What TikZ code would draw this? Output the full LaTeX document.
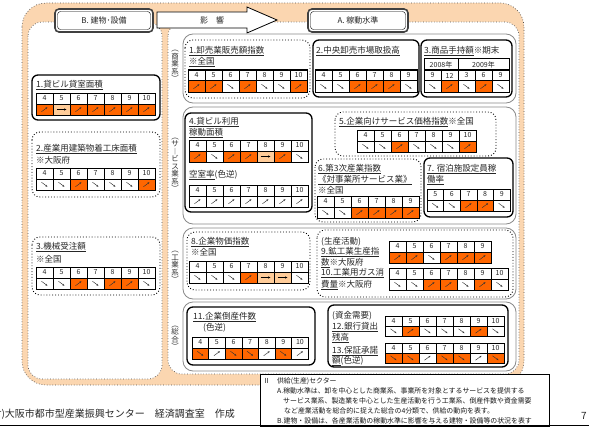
\documentclass[tikz,border=0pt]{standalone}
\usepackage{fontspec}
\setmainfont{Noto Sans CJK JP}
\usetikzlibrary{arrows.meta}
\definecolor{peach}{HTML}{FBD6B0}
\definecolor{cO}{HTML}{FF6600}
\definecolor{cP}{HTML}{FFCC99}
\definecolor{cW}{HTML}{FFFFFF}
\definecolor{grpc}{HTML}{8A8A8A}
\definecolor{dotc}{HTML}{505050}
\tikzset{
  cellline/.style={draw=black,line width=0.5pt},
  tblout/.style={draw=black,line width=1pt},
  numtxt/.style={inner sep=0pt,font=\fontsize{7}{8}\selectfont,text=black!85},
  glyph/.style={draw=black!80,line width=0.45pt,-{Stealth[length=2pt,width=1.8pt]}},
  glyphr/.style={draw=black,line width=0.6pt,-{Stealth[length=2.4pt,width=2.2pt]}},
  ttl/.style={inner sep=0pt,anchor=west,font=\fontsize{8.5}{9}\selectfont,text=black!85},
  sbox/.style={draw=black,line width=1.3pt,rounded corners=6pt,fill=white},
  dbox/.style={draw=black,dotted,line width=0.9pt,rounded corners=8pt,fill=white},
  grpbox/.style={draw=grpc,line width=0.8pt,rounded corners=10pt,fill=white},
  region/.style={draw=dotc,dotted,line width=0.7pt,fill=white,rounded corners=14pt},
  vlab/.style={inner sep=0pt,align=center,font=\fontsize{7.5}{7.5}\selectfont,text=black!80},
  hdbox/.style={draw=black!75,line width=1.6pt,rounded corners=4pt,fill=white},
  hdtxt/.style={inner sep=0pt,font=\fontsize{8}{9}\selectfont,text=black!85},
  note/.style={inner sep=0pt,anchor=west,font=\fontsize{6.9}{7}\selectfont,text=black!90},
}
\def\cw{17}
\def\rh{11}
\newcommand\mktable[4]{%
  \foreach \lab/\fc/\dr [count=\i from 0] in {#4}{%
    \pgfmathsetmacro\xa{#1+\cw*\i}%
    \pgfmathsetmacro\xc{\xa+\cw/2}%
    \pgfmathsetmacro\ya{#2+\rh}%
    \pgfmathsetmacro\yc{#2+1.5*\rh}%
    \pgfmathsetmacro\yh{#2+0.5*\rh}%
    \fill[\fc] (\xa,\ya) rectangle ++(\cw,\rh);
    \draw[cellline] (\xa,#2) rectangle ++(\cw,2*\rh);
    \node[numtxt] at (\xc,\yh) {\lab};
    \ifcase\dr\or
      \draw[glyph] (\xc-3,\yc+2.2) -- (\xc+3,\yc-2.2);
    \or
      \draw[glyph] (\xc-3,\yc-2.2) -- (\xc+3,\yc+2.2);
    \or
      \draw[glyphr] (\xc-5,\yc) -- (\xc+5,\yc);
    \fi
  }%
  \draw[tblout] (#1,#2) rectangle ++(\cw*#3,2*\rh);
  \draw[tblout] (#1,#2+\rh) -- ++(\cw*#3,0);
}
\begin{document}
\begin{tikzpicture}[x=1pt,y=-1pt]
\useasboundingbox (0,0) rectangle (589,428);
% frame and regions
\draw[draw=dotc,dotted,line width=0.7pt,fill=peach,rounded corners=24pt] (22,3) rectangle (524,385);
\draw[region] (28,22) rectangle (162,379);
\draw[region] (168,22) rectangle (519,374);
% headers
\draw[hdbox] (55,9) rectangle (153,32);
\draw[black,line width=0.4pt,rounded corners=3pt] (57.5,11.5) rectangle (150.5,29.5);
\node[hdtxt] (hB) at (104,20.5) {B. 建物･設備};
\draw[fill=white,line width=0.8pt] (157,12) -- (247,12) -- (247,7) -- (277,20) -- (247,33) -- (247,28) -- (157,28) -- cycle;
\node[hdtxt] (hE) at (212,20) {影　響};
\draw[hdbox] (308,9) rectangle (408,32);
\draw[black,line width=0.4pt,rounded corners=3pt] (310.5,11.5) rectangle (405.5,29.5);
\node[hdtxt] (hA) at (358,20.5) {A. 稼動水準};
% groups
\draw[grpbox] (183,34) rectangle (516,103);
\draw[grpbox] (183,107) rectangle (516,224);
\draw[grpbox] (183,228) rectangle (516,299);
\draw[grpbox] (183,302) rectangle (516,371);
% vertical labels
\node[vlab] (v1) at (175,66) {︵\\商\\業\\系\\︶};
\node[vlab] (v2) at (175,165) {︵\\サ\\︱\\ビ\\ス\\業\\系\\︶};
\node[vlab] (v3) at (175,267) {︵\\工\\業\\系\\︶};
\node[vlab] (v4) at (175,338) {︵\\総\\合\\︶};
% ---- left column
\draw[sbox] (32,75) rectangle (160,120);
\node[ttl] (b1) at (36,85) {\underline{1.貸ビル貸室面積}};
\mktable{36}{93}{7}{4/cO/1,5/cP/3,6/cO/1,7/cO/1,8/cO/1,9/cO/1,10/cO/1}
\draw[dbox] (32,132) rectangle (160,197);
\node[ttl] (b2) at (36,149) {\underline{2.産業用建築物着工床面積}};
\node[ttl] (b2b) at (36,160) {※大阪府};
\mktable{36}{168}{7}{4/cW/2,5/cW/2,6/cO/1,7/cW/2,8/cW/2,9/cW/2,10/cO/1}
\draw[dbox] (32,237) rectangle (160,295);
\node[ttl] (b3) at (36,247) {\underline{3.機械受注額}};
\node[ttl] (b3b) at (36,259) {※全国};
\mktable{36}{267}{7}{4/cW/2,5/cW/2,6/cO/1,7/cW/2,8/cO/1,9/cO/1,10/cW/2}
% ---- group 1
\draw[dbox] (185,40) rectangle (310,98);
\node[ttl] (a1) at (189,51) {\underline{1.卸売業販売額指数}};
\node[ttl] (a1b) at (189,62) {\underline{※全国}};
\mktable{188}{70}{7}{4/cO/1,5/cO/1,6/cW/2,7/cO/1,8/cW/2,9/cW/2,10/cO/1}
\draw[sbox] (313,40) rectangle (419,97);
\node[ttl] (a2) at (316,51) {\underline{2.中央卸売市場取扱高}};
\mktable{315}{70}{6}{4/cW/2,5/cW/2,6/cO/1,7/cO/1,8/cO/1,9/cW/2}
\draw[sbox] (421,40) rectangle (512,97);
\node[ttl] (a3) at (424,51) {\underline{3.商品手持額}※期末};
\draw[tblout] (424,59) rectangle (458,70);
\draw[tblout] (458,59) rectangle (509,70);
\node[numtxt] (y8) at (441,64.5) {2008年};
\node[numtxt] (y9) at (483.5,64.5) {2009年};
\mktable{424}{70}{5}{9/cW/2,12/cO/1,3/cW/2,6/cO/1,9/cW/2}
% ---- group 2
\draw[sbox] (185,113) rectangle (312,212);
\node[ttl] (a4) at (189,122) {\underline{4.貸ビル利用}};
\node[ttl] (a4b) at (189,133) {\underline{稼動面積}};
\mktable{189}{140}{7}{4/cO/1,5/cW/2,6/cO/1,7/cO/1,8/cP/3,9/cO/1,10/cW/2}
\node[ttl] (a4c) at (189,175) {\underline{空室率}(色逆)};
\mktable{189}{185}{7}{4/cW/1,5/cW/1,6/cW/1,7/cW/1,8/cW/1,9/cW/1,10/cW/1}
\draw[dbox] (335,112) rectangle (496,156);
\node[ttl] (a5) at (339,122) {\underline{5.企業向けサービス価格指数}※全国};
\mktable{357}{130}{7}{4/cW/2,5/cW/2,6/cO/1,7/cW/2,8/cW/2,9/cW/2,10/cO/1}
\draw[dbox] (315,159) rectangle (421,222);
\node[ttl] (a6) at (318,169) {\underline{6.第3次産業指数}};
\node[ttl] (a6b) at (318,180) {\underline{《対事業所サービス業》}};
\node[ttl] (a6c) at (318,190) {※全国};
\mktable{317}{196}{6}{4/cW/2,5/cW/2,6/cO/1,7/cO/1,8/cO/1,9/cO/1}
\draw[sbox] (424,158) rectangle (513,217);
\node[ttl] (a7) at (427,169) {\underline{7. 宿泊施設定員稼}};
\node[ttl] (a7b) at (427,180) {\underline{働率}};
\def\cw{16.6}
\mktable{427}{189}{5}{5/cW/2,6/cW/2,7/cO/1,8/cO/1,9/cW/2}
\def\cw{17}
% ---- group 3
\draw[dbox] (187,232) rectangle (310,290);
\node[ttl] (a8) at (191,242) {\underline{8.企業物価指数}};
\node[ttl] (a8b) at (191,252) {※全国};
\mktable{189}{261}{7}{4/cW/2,5/cW/2,6/cW/2,7/cO/1,8/cP/3,9/cP/3,10/cW/2}
\draw[dbox] (317,230) rectangle (513,297);
\node[ttl] (a9a) at (321,242) {(生産活動)};
\node[ttl] (a9) at (321,252) {\underline{9.鉱工業生産指}};
\node[ttl] (a9b) at (321,263) {\underline{数}※大阪府};
\node[ttl] (a10) at (321,273) {\underline{10.工業用ガス消}};
\node[ttl] (a10b) at (321,285) {\underline{費量}※大阪府};
\mktable{389}{241}{6}{4/cO/1,5/cO/1,6/cW/2,7/cO/1,8/cO/1,9/cO/1}
\mktable{389}{268}{7}{4/cW/2,5/cW/2,6/cO/1,7/cO/1,8/cW/2,9/cO/1,10/cW/2}
% ---- group 4
\draw[sbox] (187,307) rectangle (315,365);
\node[ttl] (a11) at (193,317) {\underline{11.企業倒産件数}};
\node[ttl] (a11b) at (203,328) {(色逆)};
\def\cw{16.6}
\mktable{192}{337}{7}{4/cO/2,5/cW/1,6/cO/2,7/cO/2,8/cW/1,9/cO/2,10/cW/1}
\def\cw{17}
\draw[sbox] (328,305) rectangle (508,367);
\node[ttl] (a12a) at (332,316) {(資金需要)};
\node[ttl] (a12) at (332,327) {\underline{12.銀行貸出}};
\node[ttl] (a12b) at (332,338) {\underline{残高}};
\node[ttl] (a13) at (332,351) {\underline{13.保証承諾}};
\node[ttl] (a13b) at (332,361) {\underline{額}(色逆)};
\def\rh{10}
\mktable{385}{316}{7}{4/cW/2,5/cO/1,6/cW/2,7/cW/2,8/cW/2,9/cO/1,10/cW/2}
\mktable{385}{343}{7}{4/cO/2,5/cO/2,6/cW/1,7/cO/2,8/cO/2,9/cW/1,10/cO/2}
\def\rh{11}
% ---- note box
\draw[fill=white,line width=0.8pt] (260,374) rectangle (549,426);
\node[note] (n1) at (263,381) {Ⅱ　供給(生産)セクター};
\node[note] (n2) at (277,391) {A.稼動水準は、卸を中心とした商業系、事業所を対象とするサービスを提供する};
\node[note] (n3) at (283,401) {サービス業系、製造業を中心とした生産活動を行う工業系、倒産件数や資金需要};
\node[note] (n4) at (284,411) {など産業活動を総合的に捉えた総合の4分類で、供給の動向を表す。};
\node[note] (n5) at (277,421) {B.建物・設備は、各産業活動の稼動水準に影響を与える建物・設備等の状況を表す};
% ---- footer
\node[anchor=west,inner sep=0pt,font=\fontsize{10}{10}\selectfont,text=black!85] (cr) at (-12,414) {(財)大阪市都市型産業振興センター　経済調査室　作成};
\node[anchor=west,inner sep=0pt,font=\fontsize{10}{10}\selectfont,text=black!85] (pg) at (581,416) {7};
\draw[line width=1.8pt] (0,425.5) -- (589,425.5);
\end{tikzpicture}
\end{document}
